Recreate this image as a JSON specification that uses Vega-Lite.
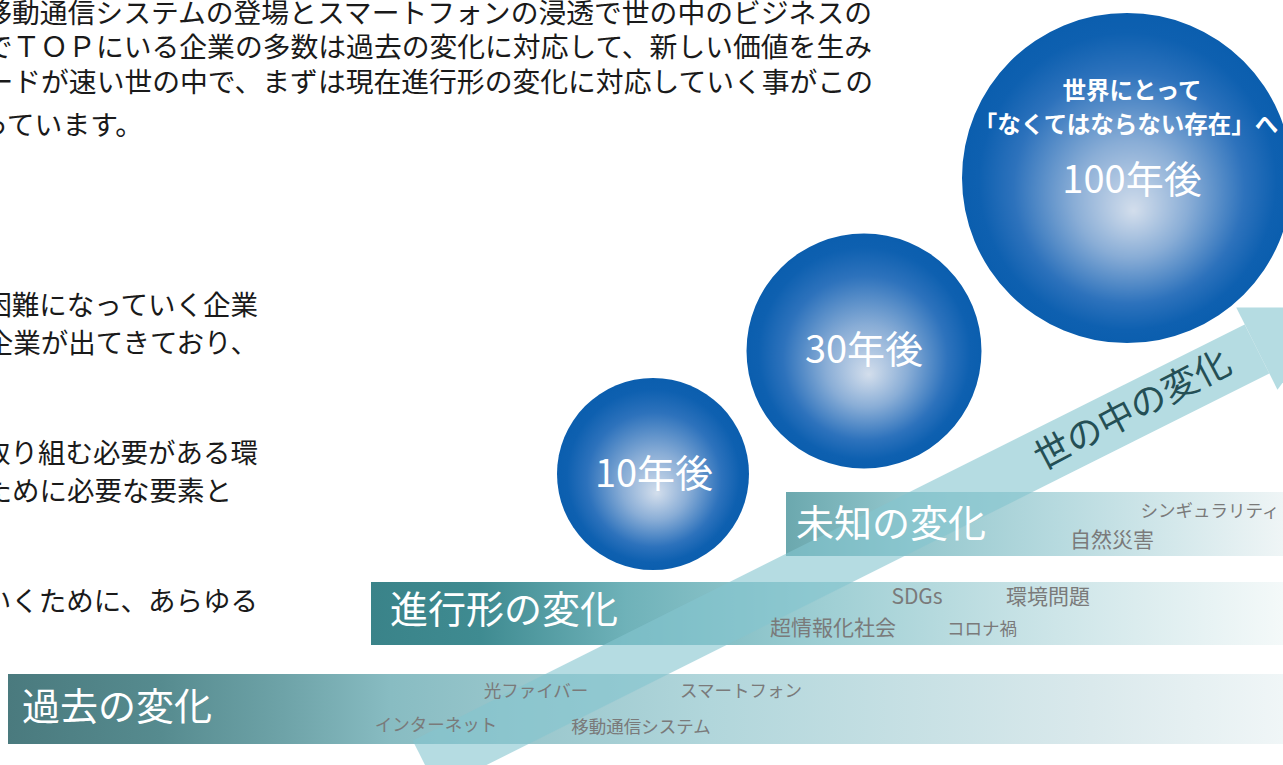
{
  "$schema": "https://vega.github.io/schema/vega-lite/v6.json",
  "width": 1283,
  "height": 765,
  "padding": 0,
  "autosize": {"type": "fit", "contains": "padding"},
  "background": "#ffffff",
  "config": {"view": {"stroke": null}, "text": {"font": "Noto Sans CJK JP"}},
  "datasets": {
    "bars": [
      {"id": "past", "x": 8, "x2": 1283, "y": 674, "y2": 744},
      {"id": "now", "x": 371, "x2": 1283, "y": 582, "y2": 645},
      {"id": "unknown", "x": 786, "x2": 1283, "y": 492, "y2": 556}
    ],
    "arrow": [{"x": 425, "y": 765, "x2": 1257, "y2": 349}],
    "head": [{"x": 1298, "y": 328}],
    "circles": [
      {"label": "10年後", "x": 653, "y": 474, "size": 36864},
      {"label": "30年後", "x": 864, "y": 351, "size": 55225},
      {"label": "100年後", "x": 1127, "y": 178, "size": 108900}
    ],
    "texts": [
      {"g": "top", "x": 872, "y": 15, "t": "移動通信システムの登場とスマートフォンの浸透で世の中のビジネスの"},
      {"g": "top", "x": 872, "y": 49, "t": "でＴＯＰにいる企業の多数は過去の変化に対応して、新しい価値を生み"},
      {"g": "top", "x": 873, "y": 84, "t": "ードが速い世の中で、まずは現在進行形の変化に対応していく事がこの"},
      {"g": "top", "x": 143, "y": 127, "t": "っています。"},
      {"g": "para", "x": 258, "y": 307, "t": "困難になっていく企業"},
      {"g": "para", "x": 258, "y": 345, "t": "企業が出てきており、"},
      {"g": "para", "x": 258, "y": 455, "t": "取り組む必要がある環"},
      {"g": "para", "x": 232, "y": 493, "t": "ために必要な要素と"},
      {"g": "para", "x": 258, "y": 603, "t": "いくために、あらゆる"},
      {"g": "bar", "x": 22, "y": 709, "t": "過去の変化"},
      {"g": "bar", "x": 390, "y": 612, "t": "進行形の変化"},
      {"g": "bar", "x": 796, "y": 526, "t": "未知の変化"},
      {"g": "circ", "x": 654, "y": 476, "t": "10年後"},
      {"g": "circ", "x": 864, "y": 352, "t": "30年後"},
      {"g": "circ", "x": 1132, "y": 182, "t": "100年後"},
      {"g": "head", "x": 1132, "y": 92, "t": "世界にとって"},
      {"g": "head", "x": 1126, "y": 126, "t": "「なくてはならない存在」へ"},
      {"g": "kanji", "x": 917, "y": 598, "t": "SDGs"},
      {"g": "kanji", "x": 1048, "y": 598, "t": "環境問題"},
      {"g": "kanji", "x": 833, "y": 629, "t": "超情報化社会"},
      {"g": "kanji", "x": 1112, "y": 541, "t": "自然災害"},
      {"g": "kata", "x": 982, "y": 630, "t": "コロナ禍"},
      {"g": "kata", "x": 536, "y": 692, "t": "光ファイバー"},
      {"g": "kata", "x": 741, "y": 692, "t": "スマートフォン"},
      {"g": "kata", "x": 436, "y": 726, "t": "インターネット"},
      {"g": "kata", "x": 641, "y": 728, "t": "移動通信システム"},
      {"g": "kata", "x": 1210, "y": 512, "t": "シンギュラリティ"},
      {"g": "arrow", "x": 1133, "y": 411, "t": "世の中の変化"}
    ]
  },
  "encoding": {
    "x": {"field": "x", "type": "quantitative", "scale": {"domain": [0, 1283], "nice": false, "zero": false}, "axis": null},
    "y": {"field": "y", "type": "quantitative", "scale": {"domain": [0, 765], "reverse": true, "nice": false, "zero": false}, "axis": null}
  },
  "layer": [
    {
      "data": {"name": "bars"},
      "transform": [{"filter": "datum.id === 'past'"}],
      "mark": {"type": "rect", "clip": true, "fill": {"gradient": "linear", "x1": 0, "y1": 0, "x2": 1, "y2": 0, "stops": [
        {"offset": 0, "color": "#4a7a7e"}, {"offset": 0.12, "color": "#568b8f"}, {"offset": 0.22, "color": "#6fa4a9"},
        {"offset": 0.3, "color": "#88bcc2"}, {"offset": 0.55, "color": "#b1d6db"}, {"offset": 0.85, "color": "#dae9ec"}, {"offset": 1, "color": "#f0f6f7"}]}},
      "encoding": {"x2": {"field": "x2"}, "y2": {"field": "y2"}}
    },
    {
      "data": {"name": "bars"},
      "transform": [{"filter": "datum.id === 'now'"}],
      "mark": {"type": "rect", "clip": true, "fill": {"gradient": "linear", "x1": 0, "y1": 0, "x2": 1, "y2": 0, "stops": [
        {"offset": 0, "color": "#3a8389"}, {"offset": 0.12, "color": "#3f8b91"}, {"offset": 0.28, "color": "#6fb2b9"},
        {"offset": 0.5, "color": "#9fcfd4"}, {"offset": 0.75, "color": "#cde5e8"}, {"offset": 1, "color": "#f4f9f9"}]}},
      "encoding": {"x2": {"field": "x2"}, "y2": {"field": "y2"}}
    },
    {
      "data": {"name": "bars"},
      "transform": [{"filter": "datum.id === 'unknown'"}],
      "mark": {"type": "rect", "clip": true, "fill": {"gradient": "linear", "x1": 0, "y1": 0, "x2": 1, "y2": 0, "stops": [
        {"offset": 0, "color": "#6ba8ae"}, {"offset": 0.25, "color": "#94c7cd"}, {"offset": 0.55, "color": "#b7dadf"}, {"offset": 1, "color": "#eff5f6"}]}},
      "encoding": {"x2": {"field": "x2"}, "y2": {"field": "y2"}}
    },
    {
      "data": {"name": "arrow"},
      "mark": {"type": "rule", "clip": true, "strokeWidth": 55, "strokeCap": "butt", "color": "#84c5cf", "opacity": 0.6},
      "encoding": {"x2": {"field": "x2"}, "y2": {"field": "y2"}}
    },
    {
      "data": {"name": "head"},
      "mark": {"type": "point", "clip": true, "filled": true, "shape": "M -1 -1 L 1 0 L -1 1 Z", "size": 8464, "angle": -26.6, "color": "#84c5cf", "opacity": 0.6, "strokeWidth": 0}
    },
    {
      "data": {"name": "circles"},
      "mark": {"type": "point", "clip": true, "shape": "circle", "filled": true, "opacity": 1, "strokeWidth": 0,
        "fill": {"gradient": "radial", "x1": 0.52, "y1": 0.6, "r1": 0, "x2": 0.5, "y2": 0.5, "r2": 0.5, "stops": [
          {"offset": 0, "color": "#d3deec"}, {"offset": 0.35, "color": "#89add6"}, {"offset": 0.7, "color": "#2d72bc"},
          {"offset": 0.9, "color": "#0e60b0"}, {"offset": 1, "color": "#0b5eae"}]}},
      "encoding": {"size": {"field": "size", "type": "quantitative", "scale": null, "legend": null}}
    },
    {
      "data": {"name": "texts"},
      "transform": [{"filter": "datum.g === 'top'"}],
      "mark": {"type": "text", "clip": true, "align": "right", "baseline": "middle", "fontSize": 27.8, "color": "#1a1a1a"},
      "encoding": {"text": {"field": "t"}}
    },
    {
      "data": {"name": "texts"},
      "transform": [{"filter": "datum.g === 'para'"}],
      "mark": {"type": "text", "clip": true, "align": "right", "baseline": "middle", "fontSize": 27.5, "color": "#1a1a1a"},
      "encoding": {"text": {"field": "t"}}
    },
    {
      "data": {"name": "texts"},
      "transform": [{"filter": "datum.g === 'bar'"}],
      "mark": {"type": "text", "clip": true, "align": "left", "baseline": "middle", "fontSize": 38, "color": "#ffffff"},
      "encoding": {"text": {"field": "t"}}
    },
    {
      "data": {"name": "texts"},
      "transform": [{"filter": "datum.g === 'circ'"}],
      "mark": {"type": "text", "clip": true, "align": "center", "baseline": "middle", "fontSize": 38, "color": "#ffffff"},
      "encoding": {"text": {"field": "t"}}
    },
    {
      "data": {"name": "texts"},
      "transform": [{"filter": "datum.g === 'head'"}],
      "mark": {"type": "text", "clip": true, "align": "center", "baseline": "middle", "fontSize": 23.5, "fontWeight": "bold", "color": "#ffffff"},
      "encoding": {"text": {"field": "t"}}
    },
    {
      "data": {"name": "texts"},
      "transform": [{"filter": "datum.g === 'kanji'"}],
      "mark": {"type": "text", "clip": true, "align": "center", "baseline": "middle", "fontSize": 21, "color": "#7a7a7a"},
      "encoding": {"text": {"field": "t"}}
    },
    {
      "data": {"name": "texts"},
      "transform": [{"filter": "datum.g === 'kata'"}],
      "mark": {"type": "text", "clip": true, "align": "center", "baseline": "middle", "fontSize": 17.5, "color": "#7a7a7a"},
      "encoding": {"text": {"field": "t"}}
    },
    {
      "data": {"name": "texts"},
      "transform": [{"filter": "datum.g === 'arrow'"}],
      "mark": {"type": "text", "clip": true, "align": "center", "baseline": "middle", "fontSize": 36, "angle": -27.6, "color": "#244f55"},
      "encoding": {"text": {"field": "t"}}
    }
  ]
}
